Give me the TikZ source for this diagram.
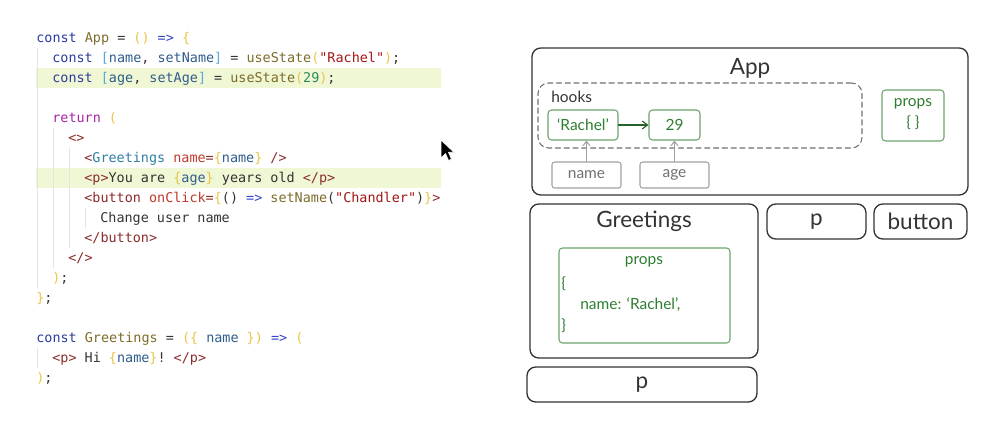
\documentclass[tikz,border=0pt]{standalone}
\usepackage{fontspec}
\setmainfont{Lato}
\setmonofont{DejaVu Sans Mono}
\usepackage{tikz}
\usetikzlibrary{arrows.meta,fit}
\definecolor{CodeKeyword}{HTML}{2B3A9F}
\definecolor{CodeFunc}{HTML}{7D6B2A}
\definecolor{CodeBrace}{HTML}{E8C54A}
\definecolor{CodeBracket}{HTML}{5AA8D8}
\definecolor{CodeArrow}{HTML}{3344C4}
\definecolor{CodeVar}{HTML}{2E5C8A}
\definecolor{CodeString}{HTML}{A31515}
\definecolor{CodeNumber}{HTML}{2E8B57}
\definecolor{CodeReturn}{HTML}{A626A4}
\definecolor{CodeTag}{HTML}{8B2C2C}
\definecolor{CodeComp}{HTML}{2E7FA3}
\definecolor{CodeAttr}{HTML}{C0392B}
\definecolor{CodeText}{HTML}{333333}
\definecolor{CodeHighlight}{HTML}{F0F7D4}
\definecolor{CodeGuide}{HTML}{E4E4E4}
\definecolor{BoxInk}{HTML}{333333}
\definecolor{StateGreen}{HTML}{2E7D32}
\definecolor{StateLine}{HTML}{6BA36B}
\definecolor{RefGray}{HTML}{707070}
\definecolor{RefLine}{HTML}{A0A0A0}
\newcommand{\ckw}[1]{\textcolor{CodeKeyword}{#1}}
\newcommand{\cfn}[1]{\textcolor{CodeFunc}{#1}}
\newcommand{\cbr}[1]{\textcolor{CodeBrace}{#1}}
\newcommand{\cbk}[1]{\textcolor{CodeBracket}{#1}}
\newcommand{\car}[1]{\textcolor{CodeArrow}{#1}}
\newcommand{\cvar}[1]{\textcolor{CodeVar}{#1}}
\newcommand{\cstr}[1]{\textcolor{CodeString}{#1}}
\newcommand{\cnum}[1]{\textcolor{CodeNumber}{#1}}
\newcommand{\cret}[1]{\textcolor{CodeReturn}{#1}}
\newcommand{\ctag}[1]{\textcolor{CodeTag}{#1}}
\newcommand{\ccomp}[1]{\textcolor{CodeComp}{#1}}
\newcommand{\cattr}[1]{\textcolor{CodeAttr}{#1}}

\begin{document}
\begin{tikzpicture}[
  x=0.02cm,y=-0.02cm,
  line cap=round,
  line join=round,
  codeline/.style={anchor=base west,inner sep=0pt,text=CodeText,
    font=\ttfamily\fontsize{7.65}{9}\selectfont},
  compbox/.style={draw=BoxInk,line width=.75pt,rounded corners=5pt,inner sep=0pt},
  statebox/.style={draw=StateLine,line width=.6pt,rounded corners=2pt,inner sep=0pt},
  refbox/.style={draw=RefLine,line width=.6pt,rounded corners=1.5pt,inner sep=0pt},
  hookbox/.style={draw=RefGray,line width=.6pt,dash pattern=on 3pt off 2pt,
    rounded corners=6pt,inner sep=0pt},
  title/.style={text=BoxInk,font=\fontsize{12.8}{14}\selectfont,inner sep=0pt},
  small/.style={font=\fontsize{8.8}{10}\selectfont,inner sep=0pt},
  statetext/.style={small,text=StateGreen},
  reftext/.style={small,text=RefGray}
]
  \useasboundingbox (0,0) rectangle (988,430);

  % highlighted lines and indent guides
  \fill[CodeHighlight] (36,68.3) rectangle (441,88.3);
  \fill[CodeHighlight] (36,168.3) rectangle (441,188.3);
  \draw[CodeGuide,line width=.4pt] (37,48) -- (37,288);
  \draw[CodeGuide,line width=.4pt] (53,128) -- (53,268);
  \draw[CodeGuide,line width=.4pt] (69,148) -- (69,248);
  \draw[CodeGuide,line width=.4pt] (85,208) -- (85,228);
  \draw[CodeGuide,line width=.4pt] (37,348) -- (37,368);

  \node[codeline] (line1) at (36,42.5)
    {\ckw{const} \cfn{App} = \cbr{()} \car{=>} \cbr{\{}};
  \node[codeline] (line2) at (52,62.5)
    {\ckw{const} \cbk{[}\cvar{name}, \cvar{setName}\cbk{]} = \cfn{useState}\cbr{(}\cstr{"Rachel"}\cbr{)};};
  \node[codeline] (line3) at (52,82.5)
    {\ckw{const} \cbk{[}\cvar{age}, \cvar{setAge}\cbk{]} = \cfn{useState}\cbr{(}\cnum{29}\cbr{)};};
  \node[codeline] (line5) at (52,122.5) {\cret{return} \cbr{(}};
  \node[codeline] (line6) at (68,142.5) {\ctag{<>}};
  \node[codeline] (line7) at (84,162.5)
    {\ctag{<}\ccomp{Greetings} \cattr{name}\ctag{=}\cbr{\{}\cvar{name}\cbr{\}} \ctag{/>}};
  \node[codeline] (line8) at (84,182.5)
    {\ctag{<p>}You are \cbr{\{}\cvar{age}\cbr{\}} years old \ctag{</p>}};
  \node[codeline] (line9) at (84,202.5)
    {\ctag{<button} \cattr{onClick}\ctag{=}\cbr{\{}() \car{=>} \cfn{setName}(\cstr{"Chandler"})\cbr{\}}\ctag{>}};
  \node[codeline] (line10) at (100,222.5) {Change user name};
  \node[codeline] (line11) at (84,242.5) {\ctag{</button>}};
  \node[codeline] (line12) at (68,262.5) {\ctag{</>}};
  \node[codeline] (line13) at (52,282.5) {\cbr{)};};
  \node[codeline] (line14) at (36,302.5) {\cbr{\}};};
  \node[codeline] (line16) at (36,342.5)
    {\ckw{const} \cfn{Greetings} = \cbr{(\{} \cvar{name} \cbr{\})} \car{=>} \cbr{(}};
  \node[codeline] (line17) at (52,362.5)
    {\ctag{<p>} Hi \cbr{\{}\cvar{name}\cbr{\}}! \ctag{</p>}};
  \node[codeline] (line18) at (36,382.5) {\cbr{)};};

  % mouse pointer
  \filldraw[fill=black,draw=white,line width=.4pt]
    (441,140) -- (441,158) -- (445.5,153.5) -- (448.5,160.5) -- (451.5,159.2)
    -- (448.5,152.3) -- (454,152.3) -- cycle;

  % component tree
  \node[compbox,fit={(532,48) (968,195)}] (app) {};
  \node[title] (apptitle) at (750,68) {App};
  \node[hookbox,fit={(538,83) (862,148)}] (hooks) {};
  \node[small,anchor=west,text=BoxInk] (hookslabel) at (551,97) {hooks};
  \node[statebox,fit={(548,110) (618,140)}] (rachel) {};
  \node[statetext] (rachellabel) at (rachel.center) {‘Rachel’};
  \node[statebox,fit={(649,110) (700,140)}] (age29) {};
  \node[statetext] (age29label) at (age29.center) {29};
  \node[refbox,fit={(552,162) (621,188)}] (nameref) {};
  \node[reftext] (namereflabel) at (nameref.center) {name};
  \node[refbox,fit={(640,162) (709,188)}] (ageref) {};
  \node[reftext] (agereflabel) at (ageref.center) {age};
  \node[statebox,fit={(882,90) (944,141)}] (appprops) {};
  \node[statetext] (apppropslabel) at (913,104) {props};
  \node[statetext] (apppropsval) at (913,123) {\{ \}};

  \draw[-{Straight Barb[length=3pt,width=4.5pt]},StateGreen!80!black,line width=.65pt]
    (rachel.east) -- (age29.west);
  \draw[-{Straight Barb[length=2.5pt,width=4pt]},RefLine,line width=.6pt]
    (nameref.north) -- (nameref.north |- rachel.south);
  \draw[-{Straight Barb[length=2.5pt,width=4pt]},RefLine,line width=.6pt]
    (ageref.north) -- (ageref.north |- age29.south);

  \node[compbox,fit={(530,204) (758,358)}] (greetings) {};
  \node[title] (greetingstitle) at (644,221) {Greetings};
  \node[statebox,fit={(559,248) (730,343)}] (greetprops) {};
  \node[statetext] (greetpropslabel) at (644,262) {props};
  \node[statetext,anchor=west] (openbrace) at (561,284) {\{};
  \node[statetext,anchor=west] (nameprop) at (580,305) {name: ‘Rachel’,};
  \node[statetext,anchor=west] (closebrace) at (561,326) {\}};

  \node[compbox,fit={(767,204) (866,239)}] (pbox) {};
  \node[title] (ptitle) at (pbox.center) {p};
  \node[compbox,fit={(874,204) (967,239)}] (buttonbox) {};
  \node[title] (buttontitle) at (buttonbox.center) {button};
  \node[compbox,fit={(527,367) (757,402)}] (greetp) {};
  \node[title] (greetptitle) at (greetp.center) {p};
\end{tikzpicture}
\end{document}
